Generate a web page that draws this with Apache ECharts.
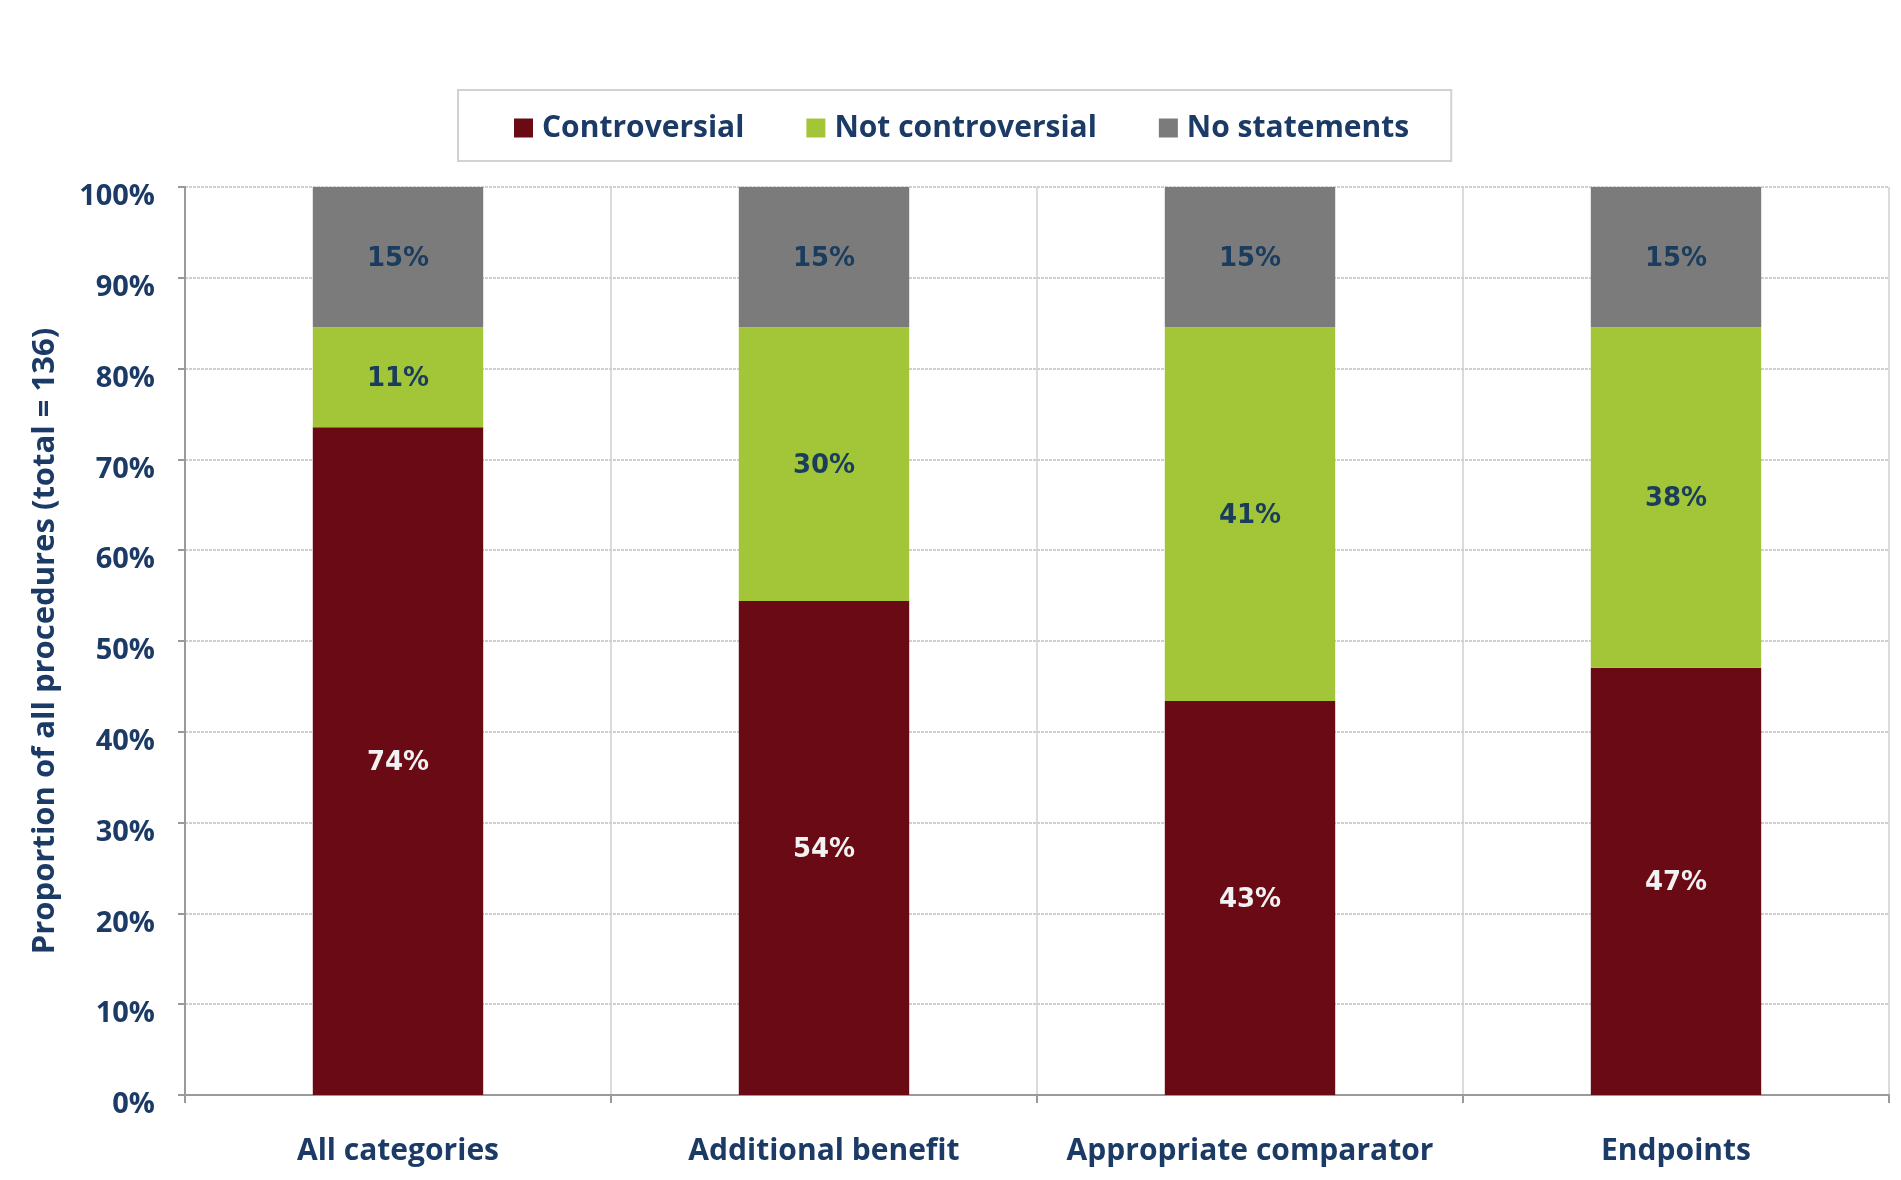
<!DOCTYPE html>
<html>
<head>
<meta charset="utf-8">
<script src="https://cdn.jsdelivr.net/npm/echarts@6/dist/echarts.min.js"></script>
<style>
html,body{margin:0;padding:0;background:#fff;}
#chart{width:1901px;height:1180px;}
</style>
</head>
<body>
<div id="chart"></div>
<script>
const categories = ['All categories', 'Additional benefit', 'Appropriate comparator', 'Endpoints'];
const seriesNames = ['Controversial', 'Not controversial', 'No statements'];
const controversial = [73.53, 54.41, 43.38, 47.06];
const notControversial = [11.03, 30.15, 41.18, 37.50];
const noStatements = [15.44, 15.44, 15.44, 15.44];
const yTicks = [0, 10, 20, 30, 40, 50, 60, 70, 80, 90, 100];

const navy = '#1b3a66';
const labelNavy = '#1a3d5e';
const axisFont = '"Open Sans", "Noto Sans", sans-serif';
const labelFont = '"DejaVu Sans", Verdana, sans-serif';

function mkSeries(name, data, color, labelColor) {
  return {
    name: name,
    type: 'bar',
    stack: 'total',
    barWidth: '40%',
    data: data,
    itemStyle: { color: color },
    label: {
      show: true,
      position: 'inside',
      offset: [0, 2],
      formatter: p => Math.round(p.value) + '%',
      color: labelColor,
      fontFamily: labelFont,
      fontWeight: 'bold',
      fontSize: 26
    }
  };
}

const chart = echarts.init(document.getElementById('chart'), null, { renderer: 'canvas' });
chart.setOption({
  backgroundColor: '#ffffff',
  animation: false,
  legend: {
    data: seriesNames,
    left: 458,
    top: 90,
    orient: 'horizontal',
    padding: [23, 42, 18, 56],
    itemGap: 62,
    itemWidth: 19,
    itemHeight: 19,
    borderColor: '#d2d2d2',
    borderWidth: 2,
    backgroundColor: '#ffffff',
    icon: 'rect',
    textStyle: {
      color: navy,
      fontFamily: axisFont,
      fontWeight: 'bold',
      fontSize: 30,
      padding: [0, 0, 0, 4]
    }
  },
  grid: { left: 185, right: 12, top: 187, bottom: 85, containLabel: false },
  xAxis: {
    type: 'category',
    data: categories,
    boundaryGap: true,
    axisLine: { show: true, lineStyle: { color: '#9a9a9a', width: 2 } },
    axisTick: { show: true, interval: 0, length: 8, lineStyle: { color: '#9a9a9a', width: 2 } },
    splitLine: { show: true, interval: 0, lineStyle: { color: '#cfcfcf', width: 1.5 } },
    axisLabel: {
      interval: 0,
      color: navy,
      fontFamily: axisFont,
      fontWeight: 'bold',
      fontSize: 30,
      margin: 41
    }
  },
  yAxis: {
    type: 'value',
    min: 0,
    max: 100,
    interval: 10,
    name: 'Proportion of all procedures (total = 136)',
    nameLocation: 'middle',
    nameGap: 124,
    nameRotate: 90,
    nameTextStyle: {
      color: navy,
      fontFamily: axisFont,
      fontWeight: 'bold',
      fontSize: 31
    },
    axisLine: { show: true, lineStyle: { color: '#9a9a9a', width: 2 } },
    axisTick: { show: true, length: 7, lineStyle: { color: '#9a9a9a', width: 2 } },
    splitLine: { show: true, lineStyle: { color: '#d0d0d0', width: 2, type: [3, 1] } },
    axisLabel: {
      color: navy,
      fontFamily: axisFont,
      fontWeight: 'bold',
      fontSize: 29,
      margin: 30,
      formatter: v => (yTicks.indexOf(v) >= 0 ? '{v|' + v + '%}' : ''),
      rich: {
        v: {
          color: navy,
          fontFamily: axisFont,
          fontWeight: 'bold',
          fontSize: 29,
          padding: [20, 0, 0, 0]
        }
      }
    }
  },
  series: [
    mkSeries(seriesNames[0], controversial, '#6a0a15', '#f2f2f2'),
    mkSeries(seriesNames[1], notControversial, '#a3c639', labelNavy),
    mkSeries(seriesNames[2], noStatements, '#7b7b7b', labelNavy)
  ]
});
</script>
</body>
</html>
